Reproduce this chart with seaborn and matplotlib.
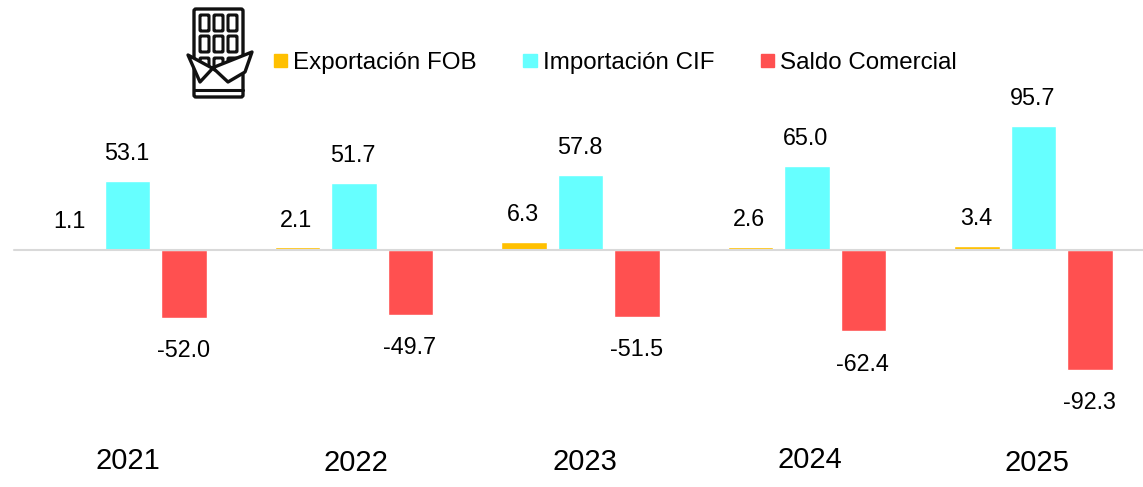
import matplotlib
matplotlib.use("Agg")
import matplotlib.pyplot as plt
from matplotlib.patches import FancyBboxPatch, Polygon, Rectangle
import pandas as pd
import seaborn as sns

# Data
years = ["2021", "2022", "2023", "2024", "2025"]
exportacion = [1.1, 2.1, 6.3, 2.6, 3.4]
importacion = [53.1, 51.7, 57.8, 65.0, 95.7]
saldo = [-52.0, -49.7, -51.5, -62.4, -92.3]
series_names = ["Exportación FOB", "Importación CIF", "Saldo Comercial"]
colors = ["#FFC000", "#66FFFF", "#FF5050"]

df = pd.DataFrame({
    "year": years * 3,
    "serie": [series_names[0]] * 5 + [series_names[1]] * 5 + [series_names[2]] * 5,
    "valor": exportacion + importacion + saldo,
})

sns.set_theme(style="white")
plt.rcParams["font.family"] = ["Liberation Sans", "DejaVu Sans"]

W, H = 1143, 487
fig = plt.figure(figsize=(W / 100, H / 100), dpi=100)
ax = fig.add_axes([0, 0, 1, 1])

sns.barplot(data=df, x="year", y="valor", hue="serie", order=years,
            hue_order=series_names, palette=colors, width=0.75, gap=0.2,
            saturation=1, legend=False, ax=ax)

# 226.5 px per category, 1.3 px per unit, baseline at y=250 px
ax.set_xlim(-127.5 / 226.5, (W - 127.5) / 226.5)
ax.set_ylim(-237 / 1.3, 250 / 1.3)
ax.axis("off")
ax.plot([14, 1143], [H - 250, H - 250], color="#D9D9D9", lw=1.5,
        transform=None, zorder=5)

# Data labels
for cont in ax.containers:
    for bar in cont:
        v = bar.get_height()
        off = 27 if v > 0 else -33
        ax.annotate(f"{v:.1f}", (bar.get_x() + bar.get_width() / 2, v),
                    xytext=(-0.7, off * 0.72), textcoords="offset points",
                    ha="center", va="center", fontsize=16.8, color="#000000")

# Year labels
year_x = [128, 356, 585, 810, 1037]
year_y = [461, 463, 462, 460, 463]
for i, yr in enumerate(years):
    fig.text(year_x[i] / W, 1 - year_y[i] / H, yr, ha="center",
             va="center", fontsize=21, color="#000000")

# Legend
handles = [Rectangle((0, 0), 1, 1, color=c) for c in colors]
leg = fig.legend(handles, series_names, ncol=3, loc="center left",
                 bbox_to_anchor=(274 / W, 1 - 63 / H), frameon=False,
                 fontsize=17.4, handlelength=0.55, handleheight=0.48,
                 handletextpad=0.25, columnspacing=1.92,
                 borderpad=0, borderaxespad=0, labelcolor="#000000")

# Chocolate icon, in pixel coordinates
icon = fig.add_axes([0, 0, 1, 1], facecolor="none")
icon.set_xlim(0, W)
icon.set_ylim(H, 0)
icon.axis("off")
icon.add_patch(FancyBboxPatch((194, 9), 49, 88, boxstyle="round,pad=0,rounding_size=2",
                              fc="white", ec="#111111", lw=2.4))
for wx in [200, 214, 228]:
    for wy in [15, 36]:
        icon.add_patch(FancyBboxPatch((wx, wy), 9, 16, boxstyle="round,pad=0,rounding_size=1",
                                      fc="white", ec="#111111", lw=2.2))
    icon.add_patch(FancyBboxPatch((wx, 58), 9, 12, boxstyle="round,pad=0,rounding_size=1",
                                  fc="white", ec="#111111", lw=2.2))
icon.add_patch(Polygon([(188, 55), (212, 68), (252, 52), (245, 72), (228, 82),
                        (213, 68), (200, 82)], closed=True, fc="white",
                       ec="#111111", lw=2.4, joinstyle="round"))
icon.plot([194, 243], [90, 90], color="#111111", lw=2.2)

fig.savefig("out.png", dpi=100)
